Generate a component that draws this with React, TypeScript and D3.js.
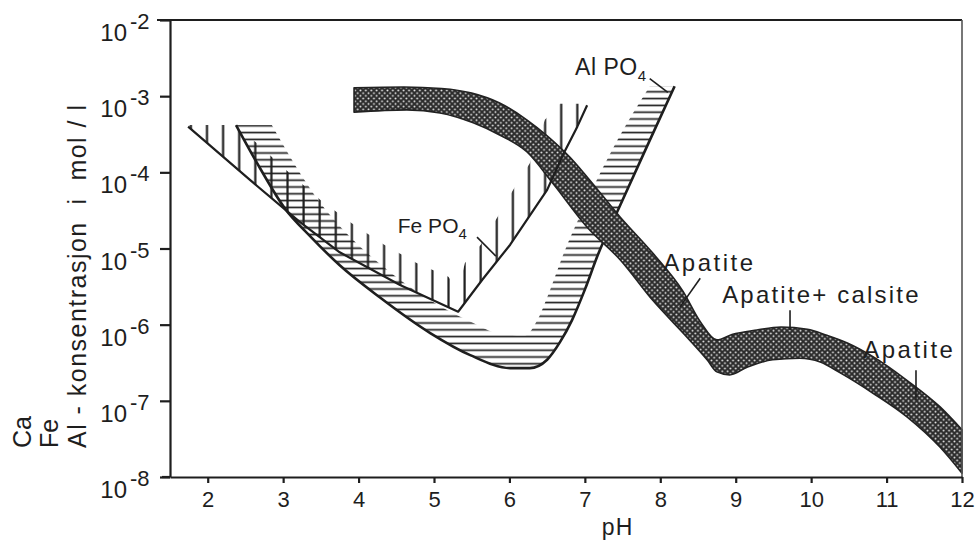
import React, { useEffect, useRef } from 'react';
import * as d3 from 'd3';

// pH ticks and log10 concentration ticks
const phTicks = [2, 3, 4, 5, 6, 7, 8, 9, 10, 11, 12];
const expTicks = [-2, -3, -4, -5, -6, -7, -8];

// all curves: [pH, log10(mol/l)]
const fePO4Line = [
  [1.74, -3.40], [2.56, -4.10], [3.22, -4.65], [3.75, -5.05], [4.55, -5.48], [5.32, -5.83],
  [5.64, -5.41], [6.01, -4.95], [6.5, -4.23], [6.71, -3.77], [6.9, -3.40], [7.03, -3.12]
];
// upper end of the vertical hatching above the FePO4 line
const fePO4Hatch = [
  [1.74, -3.38], [2.30, -3.38], [2.63, -3.60], [3.05, -3.98], [3.49, -4.36], [3.91, -4.67],
  [4.34, -4.95], [4.77, -5.19], [5.19, -5.37], [5.32, -5.55], [5.41, -5.19], [5.62, -4.95],
  [5.84, -4.59], [6.05, -4.23], [6.27, -3.88], [6.47, -3.31], [6.67, -3.10], [7.03, -3.10]
];
const alPO4Line = [
  [2.375, -3.38], [2.69, -3.94], [3.02, -4.47], [3.36, -4.84], [3.75, -5.22], [4.28, -5.64],
  [4.95, -6.11], [5.48, -6.40], [6.01, -6.57], [6.27, -6.57], [6.50, -6.46], [6.67, -6.23],
  [6.83, -5.94], [7.0, -5.54], [7.17, -5.09], [7.47, -4.43], [7.86, -3.58], [8.19, -2.87]
];
// inner edge of the horizontal hatching of AlPO4
const alPO4Hatch = [
  [2.85, -3.38], [3.18, -3.94], [3.46, -4.36], [3.82, -4.78], [4.28, -5.20], [4.95, -5.68],
  [5.48, -5.96], [5.87, -6.12], [6.21, -6.14], [6.37, -5.94], [6.54, -5.54], [6.71, -5.09],
  [7.0, -4.43], [7.43, -3.58], [7.86, -2.87]
];
const apatiteUpper = [
  [3.94, -2.89], [4.6, -2.88], [5.1, -2.9], [5.5, -2.96], [5.87, -3.09], [6.23, -3.31],
  [6.5, -3.52], [6.8, -3.8], [7.03, -4.06], [7.47, -4.59], [7.9, -5.06], [8.3, -5.56],
  [8.53, -5.96], [8.75, -6.2], [8.95, -6.13], [9.28, -6.07], [9.6, -6.03], [9.95, -6.06],
  [10.21, -6.14], [10.48, -6.24], [10.82, -6.42], [11.27, -6.73], [11.71, -7.08], [12.0, -7.38]
];
const apatiteLower = [
  [3.94, -3.21], [4.64, -3.18], [5.08, -3.22], [5.52, -3.35], [5.87, -3.51], [6.23, -3.73],
  [6.58, -4.15], [7.03, -4.72], [7.47, -5.15], [7.9, -5.68], [8.35, -6.16], [8.62, -6.46],
  [8.75, -6.62], [8.92, -6.66], [9.15, -6.56], [9.49, -6.46], [9.85, -6.44], [10.12, -6.49],
  [10.38, -6.63], [10.82, -6.9], [11.27, -7.21], [11.71, -7.61], [12.0, -7.95]
];

// annotations: text anchor and leader line, in data units
const labels = [
  { text: 'Fe PO', sub: '4', at: [4.52, -4.80], size: 21, spacing: 0, lead: [[5.57, -4.85], [5.82, -5.10]] },
  { text: 'Al PO', sub: '4', at: [6.87, -2.72], size: 23, spacing: 0.5, lead: [[7.86, -2.77], [8.10, -2.95]] },
  { text: 'Apatite', sub: '', at: [8.04, -5.30], size: 24, spacing: 2.5, lead: [[8.53, -5.39], [8.26, -5.77]] },
  { text: 'Apatite+ calsite', sub: '', at: [8.82, -5.72], size: 24, spacing: 2.2, lead: [[9.72, -5.81], [9.72, -6.07]] },
  { text: 'Apatite', sub: '', at: [10.69, -6.44], size: 24, spacing: 2.5, lead: [[11.39, -6.60], [11.39, -6.99]] }
];

const ink = '#1e1e1e';
const font = 'Liberation Sans, Arial, sans-serif';

export default function App() {
  const ref = useRef<SVGSVGElement>(null);

  useEffect(() => {
    const W = 975, H = 540;
    const margin = { left: 170, right: 13, top: 20, bottom: 63 };
    const svg = d3.select(ref.current);
    svg.selectAll('*').remove();

    const x = d3.scaleLinear().domain([1.5, 12]).range([margin.left, W - margin.right]);
    const y = d3.scaleLog().domain([1e-8, 1e-2]).range([H - margin.bottom, margin.top]);
    const px = (d: number[]) => x(d[0]);
    const py = (d: number[]) => y(Math.pow(10, d[1]));

    const defs = svg.append('defs');
    const hh = defs.append('pattern').attr('id', 'hatchH').attr('patternUnits', 'userSpaceOnUse')
      .attr('width', 10).attr('height', 6.8);
    hh.append('line').attr('x1', 0).attr('x2', 10).attr('y1', 3.4).attr('y2', 3.4)
      .attr('stroke', ink).attr('stroke-width', 1.7);
    const hv = defs.append('pattern').attr('id', 'hatchV').attr('patternUnits', 'userSpaceOnUse')
      .attr('width', 16.1).attr('height', 10);
    hv.append('line').attr('x1', 13.8).attr('x2', 13.8).attr('y1', 0).attr('y2', 10)
      .attr('stroke', ink).attr('stroke-width', 2.2);
    const dots = defs.append('pattern').attr('id', 'dots').attr('patternUnits', 'userSpaceOnUse')
      .attr('width', 5.4).attr('height', 5.4);
    dots.append('rect').attr('width', 5.4).attr('height', 5.4).attr('fill', '#2c2c2c');
    dots.append('circle').attr('cx', 1.35).attr('cy', 1.35).attr('r', 0.95).attr('fill', '#eeeeee');
    dots.append('circle').attr('cx', 4.05).attr('cy', 4.05).attr('r', 0.95).attr('fill', '#eeeeee');

    const band = (a: number[][], b: number[][], curve: any) => {
      const g = d3.line<number[]>().x(px).y(py).curve(curve);
      return g(a) + 'L' + (g(b.slice().reverse()) as string).slice(1) + 'Z';
    };

    // hatched regions
    svg.append('path').attr('d', band(alPO4Line, alPO4Hatch, d3.curveMonotoneX))
      .attr('fill', 'url(#hatchH)');
    svg.append('path').attr('d', band(fePO4Line, fePO4Hatch, d3.curveLinear))
      .attr('fill', 'url(#hatchV)');

    svg.append('path').datum(alPO4Line)
      .attr('d', d3.line<number[]>().x(px).y(py).curve(d3.curveMonotoneX))
      .attr('fill', 'none').attr('stroke', ink).attr('stroke-width', 2.6);

    // apatite band
    svg.append('path').attr('d', band(apatiteUpper, apatiteLower, d3.curveMonotoneX))
      .attr('fill', 'url(#dots)').attr('stroke', '#222').attr('stroke-width', 1.6)
      .attr('stroke-linejoin', 'round');

    svg.append('path').datum(fePO4Line)
      .attr('d', d3.line<number[]>().x(px).y(py))
      .attr('fill', 'none').attr('stroke', ink).attr('stroke-width', 2.2)
      .attr('stroke-linejoin', 'round');

    // frame
    const x0 = x.range()[0], x1 = x.range()[1];
    const y0 = y.range()[0], y1 = y.range()[1];
    svg.append('line').attr('x1', x0 - 13).attr('x2', x1).attr('y1', y1).attr('y2', y1)
      .attr('stroke', ink).attr('stroke-width', 2.2);
    svg.append('line').attr('x1', x1).attr('x2', x1).attr('y1', y1).attr('y2', y0)
      .attr('stroke', '#555').attr('stroke-width', 1.6);
    svg.append('line').attr('x1', x0 - 8).attr('x2', x0).attr('y1', y0).attr('y2', y0)
      .attr('stroke', ink).attr('stroke-width', 2.2);

    const xAxis = svg.append('g').attr('transform', `translate(0, ${y0})`)
      .call(d3.axisBottom(x).tickValues(phTicks).tickSize(6).tickSizeOuter(0).tickPadding(8));
    xAxis.selectAll('path, line').attr('stroke', ink).attr('stroke-width', 2.2);
    xAxis.selectAll('text').attr('font-size', 22).attr('font-family', font).attr('fill', ink);

    const yAxis = svg.append('g').attr('transform', `translate(${x0}, 0)`)
      .call(d3.axisLeft(y).tickValues(expTicks.map(e => Math.pow(10, e))).tickSize(10)
        .tickSizeOuter(0).tickFormat(() => ''));
    yAxis.selectAll('path, line').attr('stroke', ink).attr('stroke-width', 2.2);

    expTicks.forEach(e => {
      const ty = y(Math.pow(10, e));
      svg.append('text').attr('x', x0 - 43).attr('y', ty + 21).attr('text-anchor', 'end')
        .attr('font-size', 24).attr('font-family', font).attr('fill', ink).text('10');
      svg.append('text').attr('x', x0 - 40).attr('y', ty + 9)
        .attr('font-size', 22).attr('font-family', font).attr('fill', ink).text(String(e));
    });

    // axis titles
    svg.append('text').attr('x', (x(7) + x(8)) / 2 - 5).attr('y', H - 5).attr('text-anchor', 'middle')
      .attr('font-size', 23).attr('font-family', font).attr('fill', ink).attr('letter-spacing', 1).text('pH');

    const yTitle = [
      { t: 'Ca', bx: 31, len: 0 },
      { t: 'Fe', bx: 58, len: 0 },
      { t: 'Al - konsentrasjon  i  mol / l', bx: 86, len: 343 }
    ];
    yTitle.forEach(r => {
      const t = svg.append('text').attr('transform', `translate(${r.bx}, 448) rotate(-90)`)
        .attr('font-size', 25).attr('font-family', font).attr('fill', ink)
        .style('white-space', 'pre').text(r.t);
      if (r.len) t.attr('textLength', r.len).attr('lengthAdjust', 'spacing');
    });

    // annotations
    labels.forEach(l => {
      const t = svg.append('text').attr('x', px(l.at)).attr('y', py(l.at))
        .attr('font-size', l.size).attr('font-family', font).attr('fill', ink)
        .attr('letter-spacing', l.spacing);
      t.append('tspan').text(l.text);
      if (l.sub) t.append('tspan').attr('font-size', 15).attr('dy', 6).text(l.sub);
      svg.append('line')
        .attr('x1', px(l.lead[0])).attr('y1', py(l.lead[0]))
        .attr('x2', px(l.lead[1])).attr('y2', py(l.lead[1]))
        .attr('stroke', ink).attr('stroke-width', 1.6);
    });
  }, []);

  return (
    <svg ref={ref} width={975} height={540}
      style={{ position: 'absolute', left: 0, top: 0, background: '#fff' }} />
  );
}
